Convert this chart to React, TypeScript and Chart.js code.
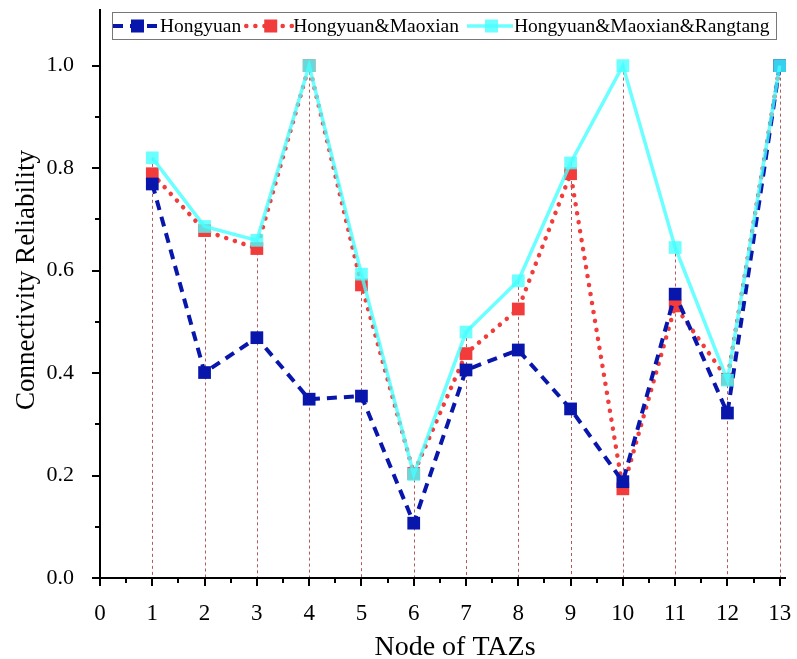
import { useEffect, useRef } from 'react';
import { Chart, registerables } from 'chart.js';
Chart.register(...registerables);

const nodes = [1, 2, 3, 4, 5, 6, 7, 8, 9, 10, 11, 12, 13];
const hongyuan = [0.769, 0.401, 0.469, 0.349, 0.355, 0.107, 0.406, 0.445, 0.330, 0.188, 0.554, 0.322, 1.0];
const hongyuanMaoxian = [0.789, 0.678, 0.643, 1.0, 0.572, 0.204, 0.438, 0.525, 0.789, 0.174, 0.531, 0.388, 1.0];
const hongyuanMaoxianRangtang = [0.820, 0.686, 0.659, 1.0, 0.593, 0.202, 0.480, 0.580, 0.810, 1.0, 0.645, 0.386, 1.0];
const seriesNames = ['Hongyuan', 'Hongyuan&Maoxian', 'Hongyuan&Maoxian&Rangtang'];
const xTicks = [0, 1, 2, 3, 4, 5, 6, 7, 8, 9, 10, 11, 12, 13];
const yTicks = [0, 0.2, 0.4, 0.6, 0.8, 1.0];
const xTitle = 'Node of TAZs';
const yTitle = 'Connectivity Reliability';

const FONT = "'Liberation Serif', 'Times New Roman', serif";
const BLUE = 'rgb(8,22,172)';
const RED = 'rgb(242,60,60)';
const CYAN = 'rgba(70,255,255,0.8)';

const decor = {
  id: 'decor',
  beforeDatasetsDraw(chart: any) {
    const { ctx, scales } = chart;
    const x = scales.x, y = scales.y;
    ctx.save();
    ctx.strokeStyle = '#b05a5a';
    ctx.lineWidth = 1;
    ctx.setLineDash([3, 3]);
    nodes.forEach((n, i) => {
      const top = Math.max(hongyuan[i], hongyuanMaoxian[i], hongyuanMaoxianRangtang[i]);
      const px = Math.round(x.getPixelForValue(n)) + 0.5;
      ctx.beginPath();
      ctx.moveTo(px, y.getPixelForValue(top));
      ctx.lineTo(px, y.getPixelForValue(0));
      ctx.stroke();
    });
    ctx.restore();
  },
  afterDraw(chart: any) {
    const { ctx, scales, chartArea } = chart;
    const x = scales.x, y = scales.y;
    const x0 = Math.round(x.getPixelForValue(0));
    const y0 = Math.round(y.getPixelForValue(0));
    ctx.save();
    ctx.strokeStyle = '#000';
    ctx.lineWidth = 2;
    ctx.setLineDash([]);
    ctx.beginPath();
    ctx.moveTo(x0, chartArea.top);
    ctx.lineTo(x0, y0);
    ctx.lineTo(chartArea.right, y0);
    ctx.stroke();
    for (let k = 0; k <= 10; k++) {
      const py = Math.round(y.getPixelForValue(k / 10));
      const len = k % 2 === 0 ? 8 : 5;
      ctx.beginPath();
      ctx.moveTo(x0, py);
      ctx.lineTo(x0 - len, py);
      ctx.stroke();
    }
    for (let k = 0; k <= 26; k++) {
      const px = Math.round(x.getPixelForValue(k / 2));
      const len = k % 2 === 0 ? 8 : 5;
      ctx.beginPath();
      ctx.moveTo(px, y0);
      ctx.lineTo(px, y0 + len);
      ctx.stroke();
    }
    // axis titles
    ctx.fillStyle = '#000';
    ctx.textAlign = 'center';
    ctx.textBaseline = 'alphabetic';
    ctx.font = `28px ${FONT}`;
    ctx.fillText(xTitle, 455, 655);
    ctx.save();
    ctx.translate(34, 280);
    ctx.rotate(-Math.PI / 2);
    ctx.font = `27px ${FONT}`;
    ctx.fillText(yTitle, 0, 0);
    ctx.restore();

    // legend
    const boxL = 112, boxT = 12, boxR = 776, boxB = 39;
    ctx.fillStyle = '#fff';
    ctx.fillRect(boxL, boxT, boxR - boxL, boxB - boxT);
    ctx.lineWidth = 1;
    ctx.strokeStyle = '#777';
    ctx.strokeRect(boxL + 0.5, boxT + 0.5, boxR - boxL, boxB - boxT);
    const midY = (boxT + boxB) / 2 + 0.5;
    ctx.font = `19.5px ${FONT}`;
    ctx.textAlign = 'left';
    ctx.textBaseline = 'middle';
    const gaps = [5, 8, 0];
    let cx = boxL + 1;
    chart.data.datasets.forEach((ds: any, i: number) => {
      ctx.save();
      ctx.strokeStyle = ds.borderColor;
      ctx.lineWidth = ds.borderWidth;
      ctx.lineCap = ds.borderCapStyle || 'butt';
      ctx.setLineDash(ds.borderDash || []);
      ctx.beginPath();
      ctx.moveTo(cx, midY);
      ctx.lineTo(cx + 46, midY);
      ctx.stroke();
      ctx.fillStyle = ds.pointBackgroundColor;
      ctx.fillRect(cx + 18, midY - 6.5, 13, 13);
      ctx.restore();
      ctx.fillStyle = '#000';
      ctx.fillText(ds.label, cx + 47, midY + 1);
      cx += 47 + ctx.measureText(ds.label).width + gaps[i];
    });
    ctx.restore();
  },
};

export default function App() {
  const ref = useRef<HTMLCanvasElement>(null);
  useEffect(() => {
    document.body.style.margin = '0';
    const toPts = (arr: number[]) => nodes.map((n, i) => ({ x: n, y: arr[i] }));
    const chart = new Chart(ref.current!, {
      type: 'line',
      data: {
        datasets: [
          {
            label: seriesNames[0],
            data: toPts(hongyuan),
            borderColor: BLUE,
            backgroundColor: BLUE,
            pointBackgroundColor: BLUE,
            pointBorderColor: BLUE,
            borderWidth: 4,
            borderDash: [10, 7],
            pointStyle: 'rect',
            pointRadius: 9,
            pointBorderWidth: 0,
            order: 1,
          },
          {
            label: seriesNames[1],
            data: toPts(hongyuanMaoxian),
            borderColor: RED,
            backgroundColor: RED,
            pointBackgroundColor: RED,
            pointBorderColor: RED,
            borderWidth: 4.5,
            borderDash: [0.1, 9],
            borderCapStyle: 'round',
            pointStyle: 'rect',
            pointRadius: 9,
            pointBorderWidth: 0,
            order: 2,
          },
          {
            label: seriesNames[2],
            data: toPts(hongyuanMaoxianRangtang),
            borderColor: CYAN,
            backgroundColor: CYAN,
            pointBackgroundColor: CYAN,
            pointBorderColor: CYAN,
            borderWidth: 3.5,
            pointStyle: 'rect',
            pointRadius: 9,
            pointBorderWidth: 0,
            order: 0,
          },
        ] as any,
      },
      options: {
        animation: false,
        responsive: false,
        layout: { padding: { top: 5, right: 11, left: 0, bottom: 0 } },
        plugins: { legend: { display: false }, tooltip: { enabled: false } },
        scales: {
          x: {
            type: 'linear',
            min: 0,
            max: 13.12,
            grid: { display: false },
            border: { display: false },
            afterBuildTicks: (s: any) => { s.ticks = xTicks.map((v) => ({ value: v })); },
            afterFit: (s: any) => { s.height = 81; s.paddingLeft = 0; s.paddingRight = 0; },
            ticks: {
              autoSkip: false,
              maxRotation: 0,
              padding: 14,
              color: '#000',
              font: { family: FONT, size: 23 },
              callback: (v: any) => String(v),
            },
          },
          y: {
            type: 'linear',
            min: 0,
            max: 1.1105,
            grid: { display: false },
            border: { display: false },
            afterBuildTicks: (s: any) => { s.ticks = yTicks.map((v) => ({ value: v })); },
            afterFit: (s: any) => { s.width = 100; s.paddingTop = 0; s.paddingBottom = 0; },
            ticks: {
              padding: 18,
              color: '#000',
              font: { family: FONT, size: 22 },
              callback: (v: any) => Number(v).toFixed(1),
            },
          },
        },
      },
      plugins: [decor],
    });
    return () => chart.destroy();
  }, []);
  return (
    <div style={{ width: 797, height: 659 }}>
      <canvas ref={ref} width={797} height={659} style={{ width: 797, height: 659, display: 'block' }} />
    </div>
  );
}
